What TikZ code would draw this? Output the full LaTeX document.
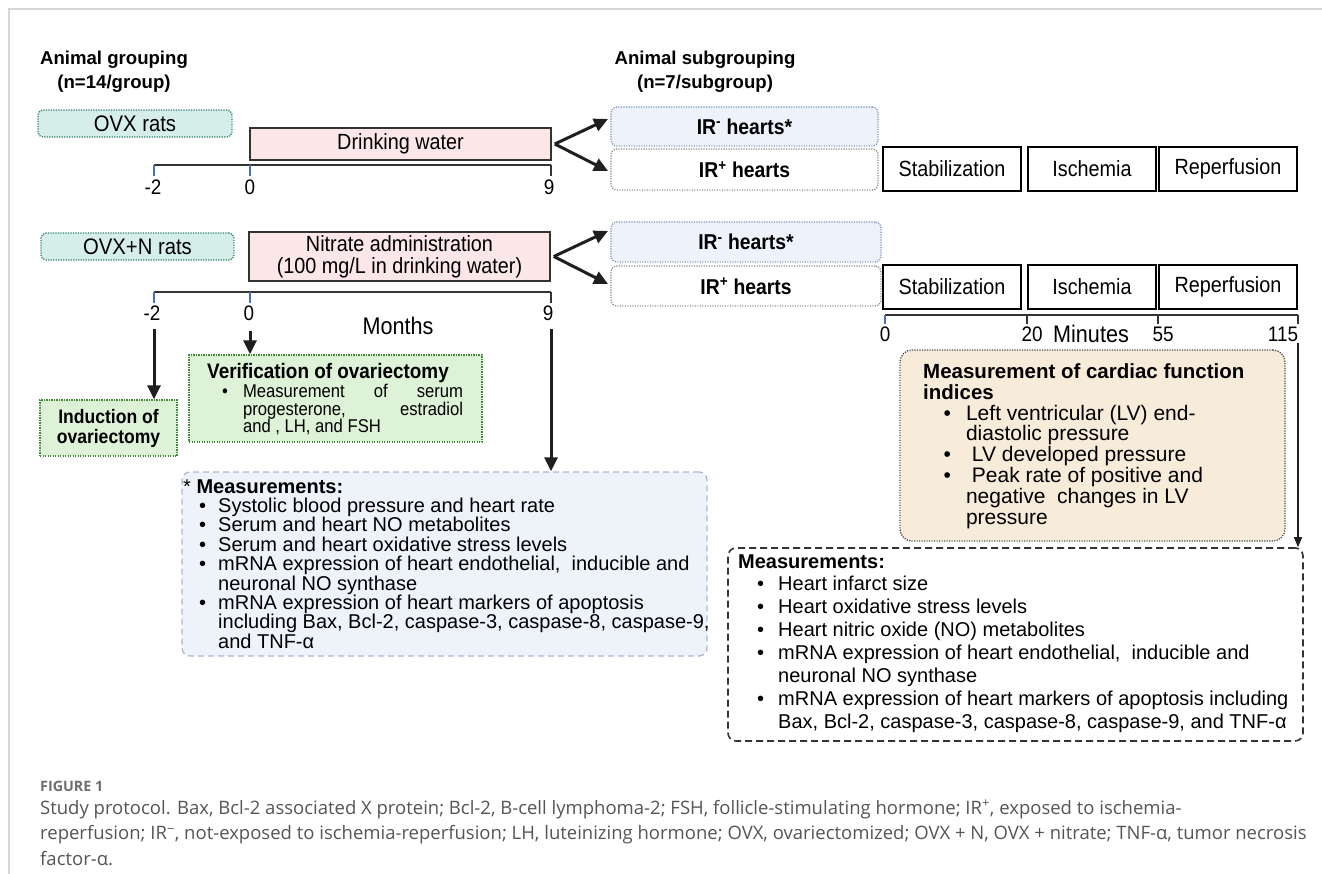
\documentclass[tikz,border=0pt]{standalone}
\usepackage{fontspec}
\usepackage{array}
\setmainfont{Liberation Sans}
\newfontfamily\cond[FakeStretch=0.9]{Liberation Sans}
\newfontfamily\capfont{Open Sans}
\usetikzlibrary{arrows.meta}
\newcolumntype{L}{>{\begin{lrbox}{0}}l<{\end{lrbox}\smash{\usebox{0}}}}
\newcommand\sline[1]{\smash{#1}}
\definecolor{tealfill}{HTML}{D5EEEA}
\definecolor{tealdraw}{HTML}{2E7D6E}
\definecolor{pinkfill}{HTML}{FBE7E7}
\definecolor{darkc}{HTML}{333333}
\definecolor{irmfill}{HTML}{EDF2FB}
\definecolor{irmdraw}{HTML}{7F93C4}
\definecolor{irpdraw}{HTML}{8C8C8C}
\definecolor{greenfill}{HTML}{DEF2D8}
\definecolor{greendraw}{HTML}{3F8A35}
\definecolor{bluefill}{HTML}{EEF3FA}
\definecolor{bluedraw}{HTML}{A7B8D3}
\definecolor{tanfill}{HTML}{F7ECDA}
\definecolor{tandraw}{HTML}{4A4A4A}
\definecolor{tickbluec}{HTML}{4F6FB5}
\definecolor{framec}{HTML}{D6D6D6}
\definecolor{capc}{HTML}{555555}
\definecolor{figc}{HTML}{6E6E6E}
\tikzset{
  dotb/.style={dash pattern=on 1.2pt off 1.3pt, line width=1.3pt},
  grpbox/.style={draw=tealdraw, fill=tealfill, dotb, rounded corners=5pt, inner sep=0pt},
  treatbox/.style={draw=darkc, fill=pinkfill, line width=1.6pt, inner sep=0pt},
  irmbox/.style={draw=irmdraw, fill=irmfill, dotb, rounded corners=6pt, inner sep=0pt,
    font=\cond\bfseries\fontsize{21.5}{22}\selectfont, minimum height=40pt},
  irpbox/.style={draw=irpdraw, fill=white, dotb, rounded corners=6pt, inner sep=0pt,
    font=\cond\bfseries\fontsize{21.5}{22}\selectfont, minimum height=40pt},
  phasebox/.style={draw=black, line width=1.8pt, inner sep=0pt, minimum height=44pt,
    font=\cond\fontsize{22}{22}\selectfont},
  axisline/.style={draw=darkc, line width=2.4pt},
  tkb/.style={draw=tickbluec, line width=1.4pt},
  tkd/.style={draw=darkc, line width=1.8pt},
  lbl/.style={inner sep=0pt, font=\cond\fontsize{21}{21}\selectfont},
  bigarrow/.style={-{Triangle[length=14pt,width=13pt]}, line width=3pt, draw=black!88},
  thinarrow/.style={-{Triangle[length=10pt,width=8pt]}, line width=1.4pt, draw=black!88},
  greenbox/.style={draw=greendraw, fill=greenfill, dotb, inner sep=0pt},
  bluebox/.style={draw=bluedraw, fill=bluefill, dash pattern=on 6pt off 4pt, line width=1.3pt, rounded corners=8pt, inner sep=0pt},
  tanbox/.style={draw=tandraw, fill=tanfill, dotb, rounded corners=12pt, inner sep=0pt},
  measbox/.style={draw=darkc, fill=white, dash pattern=on 7pt off 4pt, line width=1.6pt, rounded corners=8pt, inner sep=0pt},
  txt/.style={inner sep=0pt, anchor=base west},
  head/.style={inner sep=0pt, anchor=base, font=\bfseries\fontsize{18.6}{24}\selectfont}
}
\begin{document}
\begin{tikzpicture}[x=1pt,y=-1pt]
\useasboundingbox (0,0) rectangle (1322,874);
% frame
\draw[framec, line width=2pt] (9,874) -- (9,9.5) -- (1322,9.5);

% headings
\node[head] (hg) at (114,64.5) {\begin{tabular}[t]{@{}c@{}}Animal grouping\\(n=14/group)\end{tabular}};
\node[head] (hs) at (705,64.5) {\begin{tabular}[t]{@{}c@{}}Animal subgrouping\\(n=7/subgroup)\end{tabular}};

% ---- row 1
\node[grpbox, minimum width=194pt, minimum height=27pt, font=\cond\fontsize{22.5}{24}\selectfont] (ovx) at (135,123.5) {OVX rats};
\node[treatbox, minimum width=301pt, minimum height=32pt, font=\cond\fontsize{22}{22}\selectfont] (water) at (400.5,144) {Drinking water};
\coordinate (r1a) at (154,165);
\coordinate (r1b) at (250,165);
\coordinate (r1c) at (551,165);
\draw[axisline] (r1a) -- (r1c);
\draw[tkb] (r1a) -- ++(0,11);
\draw[tkb] (r1b) -- ++(0,11);
\draw[tkd] (r1c) -- ++(0,11);
\node[lbl] (l1a) at (153,187) {-2};
\node[lbl] (l1b) at (250,187) {0};
\node[lbl] (l1c) at (549,187) {9};

\node[irmbox, minimum width=267pt, minimum height=39pt] (irm1) at (744.5,126.5) {IR\textsuperscript{-} hearts*};
\node[irpbox, minimum width=267pt, minimum height=41pt] (irp1) at (744.5,169.5) {IR\textsuperscript{+} hearts};
\coordinate (t1a) at (608,119);
\coordinate (t1b) at (608,171);
\draw[bigarrow] ([xshift=3pt]water.east) -- (t1a);
\draw[bigarrow] ([xshift=3pt]water.east) -- (t1b);

\node[phasebox, minimum width=138pt] (st1) at (952,169) {Stabilization};
\node[phasebox, minimum width=128pt] (is1) at (1092,169) {Ischemia};
\node[phasebox, minimum width=138pt] (re1) at (1228,169) {Reperfusion};

% ---- row 2
\node[grpbox, minimum width=193pt, minimum height=27pt, font=\cond\fontsize{22.5}{24}\selectfont] (ovxn) at (137.5,246.5) {OVX+N rats};
\node[treatbox, minimum width=301pt, minimum height=49pt, align=center, font=\cond\fontsize{22}{22}\selectfont] (nitr) at (399.5,256.5) {Nitrate administration\\(100 mg/L in drinking water)};
\coordinate (r2a) at (154,292);
\coordinate (r2b) at (250,292);
\coordinate (r2c) at (551,292);
\draw[axisline] (r2a) -- (r2c);
\draw[tkb] (r2a) -- ++(0,11);
\draw[tkb] (r2b) -- ++(0,11);
\draw[tkd] (r2c) -- ++(0,11);
\node[lbl] (l2a) at (152,313) {-2};
\node[lbl] (l2b) at (249,313) {0};
\node[lbl] (l2c) at (548,313) {9};
\node[lbl, font=\cond\fontsize{24}{24}\selectfont] (months) at (398,326) {Months};

\node[irmbox, minimum width=270pt] (irm2) at (746,242) {IR\textsuperscript{-} hearts*};
\node[irpbox, minimum width=270pt] (irp2) at (746,286) {IR\textsuperscript{+} hearts};
\coordinate (t2a) at (608,231);
\coordinate (t2b) at (608,284);
\draw[bigarrow] ([xshift=3pt]nitr.east) -- (t2a);
\draw[bigarrow] ([xshift=3pt]nitr.east) -- (t2b);

\node[phasebox, minimum width=138pt] (st2) at (952,287) {Stabilization};
\node[phasebox, minimum width=128pt] (is2) at (1092,287) {Ischemia};
\node[phasebox, minimum width=138pt] (re2) at (1228,287) {Reperfusion};

% minutes axis
\coordinate (m0) at (885,315);
\coordinate (m20) at (1027,315);
\coordinate (m55) at (1158,315);
\coordinate (m115) at (1298,315);
\draw[draw=darkc, line width=2pt] (m0) -- (m115);
\draw[tkb] (m0) -- ++(0,9);
\draw[tkd] (m20) -- ++(0,9);
\draw[tkd] (m55) -- ++(0,9);
\draw[tkd] (m115) -- ++(0,9);
\node[lbl] (n0) at (885,334) {0};
\node[lbl] (n20) at (1032,334) {20};
\node[lbl, font=\cond\fontsize{24}{24}\selectfont] (nmin) at (1091,334) {Minutes};
\node[lbl] (n55) at (1163,334) {55};
\node[lbl] (n115) at (1283,334) {115};

% ---- lower boxes
\node[greenbox, minimum width=137pt, minimum height=56pt, align=center, font=\cond\bfseries\fontsize{19.5}{20}\selectfont] (induct) at (108.5,428) {Induction of\\ovariectomy};

\node[greenbox, minimum width=293pt, minimum height=87pt] (verif) at (335.5,398.5) {};
\node[txt, font=\cond\bfseries\fontsize{21}{21}\selectfont] (vtitle) at (207,378.5) {Verification of ovariectomy};
\node[txt, font=\cond\fontsize{18.5}{17.5}\selectfont] (vlist) at (222,397.5) {\begin{tabular}[t]{@{}L@{\hspace{15pt}}L@{}}
\textbullet & \makebox[220pt][s]{Measurement\hfill of\hfill serum}\\
 & \makebox[220pt][s]{progesterone,\hfill estradiol}\\
 & and , LH, and FSH
\end{tabular}};

\node[bluebox, minimum width=525pt, minimum height=184pt] (meas1) at (444.5,564) {};
\node[txt, font=\fontsize{20}{19.4}\selectfont] (m1txt) at (183,493) {\begin{tabular}[t]{@{\hspace{16pt}}L@{\hspace{12pt}}L@{}}
\multicolumn{2}{@{}l@{}}{\sline{* \textbf{Measurements:}}}\\
\textbullet & Systolic blood pressure and heart rate\\
\textbullet & Serum and heart NO metabolites\\
\textbullet & Serum and heart oxidative stress levels\\
\textbullet & mRNA expression of heart endothelial,\ \ inducible and\\
 & neuronal NO synthase\\
\textbullet & mRNA expression of heart markers of apoptosis\\
 & including Bax, Bcl-2, caspase-3, caspase-8, caspase-9,\\
 & and TNF-α
\end{tabular}};

\node[tanbox, minimum width=385pt, minimum height=191pt] (cardiac) at (1092.5,445.5) {};
\node[txt, font=\fontsize{21}{20.8}\selectfont] (ctxt) at (923,378.5) {\begin{tabular}[t]{@{\hspace{20.5pt}}L@{\hspace{15pt}}L@{}}
\multicolumn{2}{@{}l@{}}{\sline{\fontsize{20.5}{20.8}\selectfont\bfseries Measurement of cardiac function}}\\
\multicolumn{2}{@{}l@{}}{\sline{\fontsize{20.5}{20.8}\selectfont\bfseries indices}}\\
\textbullet & Left ventricular (LV) end-\\
 & diastolic pressure\\
\textbullet & \ LV developed pressure\\
\textbullet & \ Peak rate of positive and\\
 & negative\ \ changes in LV\\
 & pressure
\end{tabular}};

\node[measbox, minimum width=575pt, minimum height=193pt] (meas2) at (1015.5,644.5) {};
\node[txt, font=\fontsize{20}{22.9}\selectfont] (m2txt) at (738,568) {\begin{tabular}[t]{@{\hspace{19pt}}L@{\hspace{14pt}}L@{}}
\multicolumn{2}{@{}l@{}}{\sline{\textbf{Measurements:}}}\\
\textbullet & Heart infarct size\\
\textbullet & Heart oxidative stress levels\\
\textbullet & Heart nitric oxide (NO) metabolites\\
\textbullet & mRNA expression of heart endothelial,\ \ inducible and\\
 & neuronal NO synthase\\
\textbullet & mRNA expression of heart markers of apoptosis including\\
 & Bax, Bcl-2, caspase-3, caspase-8, caspase-9, and TNF-α
\end{tabular}};

% ---- vertical arrows
\coordinate (d1) at (154,329);
\coordinate (d2) at (250,331);
\coordinate (d3) at (551,329);
\coordinate (d4) at (1298,343);
\draw[bigarrow] (d1) -- (induct.north -| d1);
\draw[bigarrow] (d2) -- (verif.north -| d2);
\draw[bigarrow] (d3) -- (meas1.north -| d3);
\draw[thinarrow] (d4) -- (meas2.north -| d4);

% ---- caption
\node[txt, text=figc, font=\capfont\bfseries\fontsize{14.3}{16}\selectfont] (figlbl) at (40,791) {FIGURE 1};
\node[txt, text=capc, font=\capfont\fontsize{18.5}{25.5}\selectfont] (captxt) at (40,814) {\begin{tabular}[t]{@{}L@{}}
Study protocol. Bax, Bcl-2 associated X protein; Bcl-2, B-cell lymphoma-2; FSH, follicle-stimulating hormone; IR\textsuperscript{+}, exposed to ischemia-\\
reperfusion; IR\textsuperscript{−}, not-exposed to ischemia-reperfusion; LH, luteinizing hormone; OVX, ovariectomized; OVX + N, OVX + nitrate; TNF-α, tumor necrosis\\
factor-α.
\end{tabular}};
\end{tikzpicture}
\end{document}
